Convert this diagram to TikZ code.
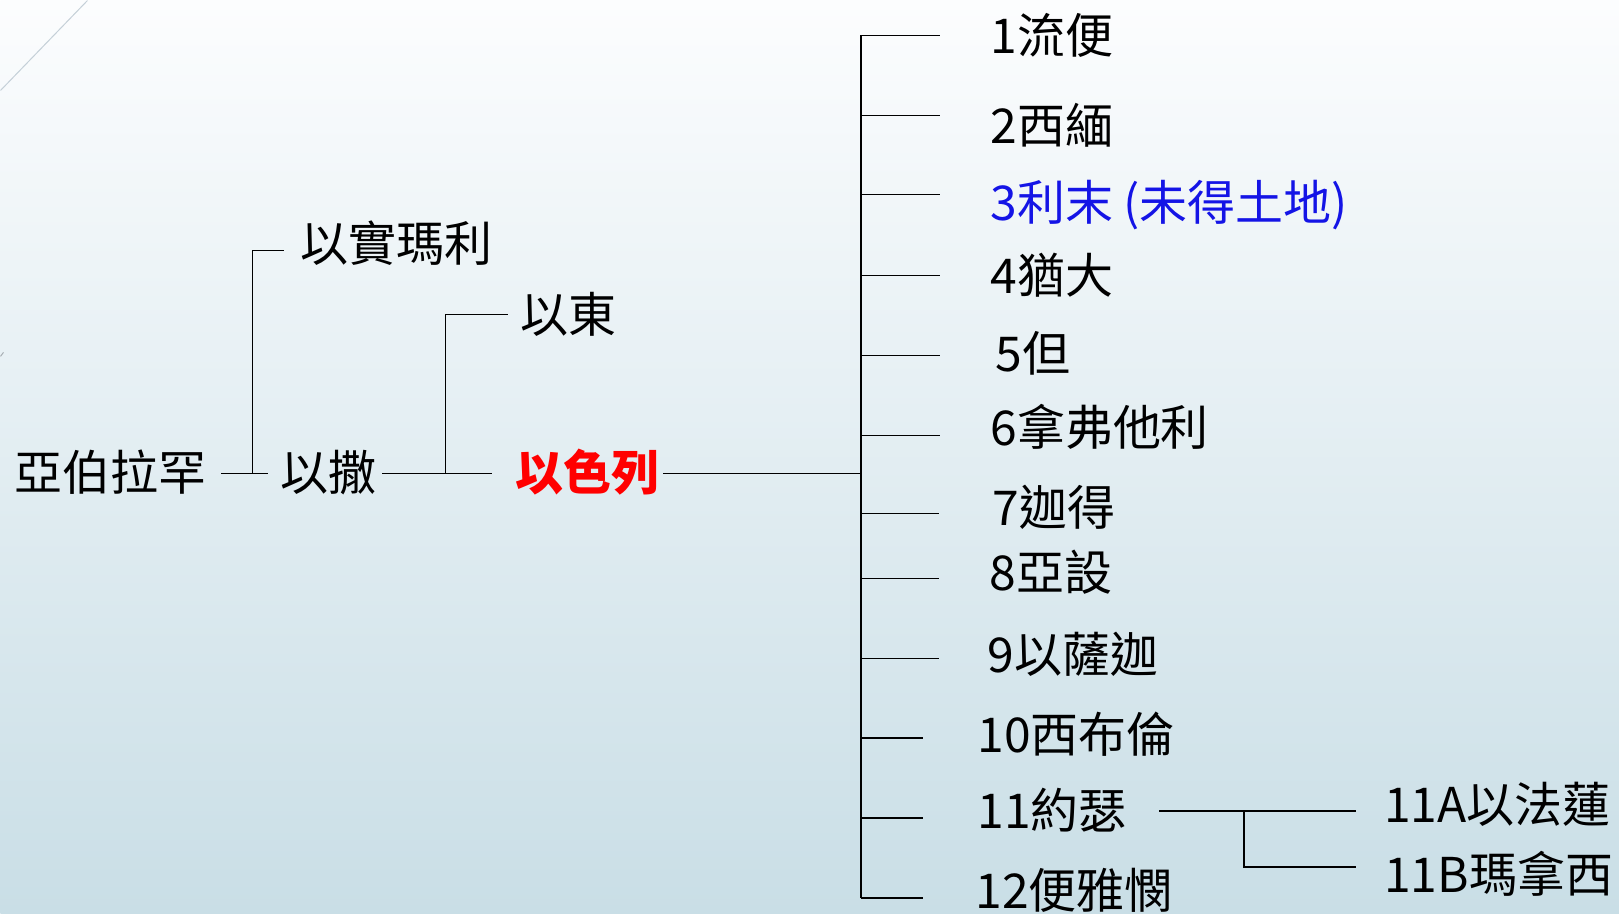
\documentclass[tikz,border=0pt]{standalone}
\usepackage{fontspec}
\setmainfont{Noto Sans CJK TC}
\definecolor{bgtop}{HTML}{FCFDFE}
\definecolor{bgbot}{HTML}{C9DEE6}
\definecolor{deco}{HTML}{C5D0D8}
\definecolor{levi}{HTML}{1414E6}
\definecolor{israelred}{HTML}{FF0000}
\tikzset{
  lbl/.style={anchor=base west, inner sep=0pt, font=\fontsize{48}{57}\selectfont},
  branch/.style={line width=1.6pt, black}
}

\begin{document}
\begin{tikzpicture}[x=1pt,y=-1pt]
  \shade[top color=bgtop, bottom color=bgbot] (0,0) rectangle (1619,913);
  \draw[deco, line width=1pt] (87,0) -- (0,90);
  \draw[deco!60!gray, line width=1pt] (0,356) -- (3,352);
  % Abraham, Isaac, Israel
  \node[lbl] (abram) at (14,490) {亞伯拉罕};
  \node[lbl] (ishmael) at (300,261) {以實瑪利};
  \node[lbl] (isaac) at (280,490) {以撒};
  \node[lbl] (edom) at (520,332) {以東};
  \node[lbl, text=israelred, font=\fontsize{48}{57}\selectfont\bfseries] (israel) at (515,490) {以色列};
  \coordinate (abramJ) at (252,473);
  \coordinate (isaacJ) at (445,473);
  \coordinate (israelJ) at (861,473);
  \coordinate (abramL) at (221,473);
  \coordinate (abramR) at (268,473);
  \coordinate (ishmaelL) at (284,250);
  \coordinate (isaacL) at (382,473);
  \coordinate (isaacR) at (492,473);
  \coordinate (edomL) at (508,314);
  \coordinate (israelL) at (663,473);
  \draw[branch] (abramL) -- (abramR);
  \draw[branch] (abramJ) |- (ishmaelL);
  \draw[branch] (isaacL) -- (isaacR);
  \draw[branch] (isaacJ) |- (edomL);
  \draw[branch] (israelL) -- (israelJ);
  % twelve tribes
  \draw[branch] (861,35) -- (861,898);
  \foreach \i/\y/\e/\x/\b/\c/\txt in {
      1/35/940/990/53/black/1流便,
      2/115/940/990/143/black/2西緬,
      3/194/940/990/220/levi/3利末 (未得土地),
      4/275/940/990/293/black/4猶大,
      5/355/940/995/371/black/5但,
      6/435/940/990/445/black/6拿弗他利,
      7/513/939/992/525/black/7迦得,
      8/578/939/989/590/black/8亞設,
      9/658/939/987/672/black/9以薩迦,
      10/738/923/977/752/black/10西布倫,
      11/818/923/977/828/black/11約瑟,
      12/898/923/975/908/black/12便雅憫} {
    \node[lbl, text=\c] (t\i) at (\x,\b) {\txt};
    \coordinate (e\i) at (\e,\y);
    \draw[branch] (israelJ |- e\i) -- (e\i);
  }
  % Joseph
  \node[lbl] (ephraim) at (1384,822) {11A以法蓮};
  \node[lbl] (manasseh) at (1384,892) {11B瑪拿西};
  \coordinate (josephL) at (1159,811);
  \coordinate (josephJ) at (1244,811);
  \coordinate (ephraimL) at (1356,811);
  \coordinate (manassehL) at (1356,867);
  \draw[branch] (josephL) -- (ephraimL);
  \draw[branch] (josephJ) |- (manassehL);
\end{tikzpicture}
\end{document}
